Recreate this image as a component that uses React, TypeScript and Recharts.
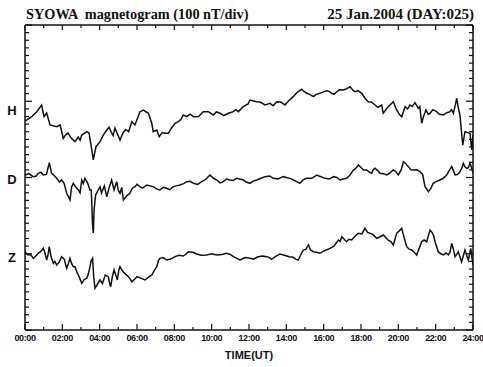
import React from 'react';
import { LineChart, Line, XAxis, YAxis } from 'recharts';

// Time (hours UT) and trace levels (in axis divisions, 0 = bottom frame, 40 = top frame)
const hTime = [0, 0.36, 0.63, 0.89, 1.02, 1.16, 1.34, 1.7, 1.88, 2.05, 2.3, 2.68, 3.04, 3.31, 3.43, 3.52, 3.66, 3.8, 4.02, 4.38, 4.64, 4.82, 5.09, 5.25, 5.72, 5.89, 6.16, 6.34, 6.61, 6.79, 6.87, 7.06, 7.19, 7.5, 7.68, 8.04, 8.21, 8.48, 8.66, 9.02, 9.55, 9.82, 10.09, 10.45, 10.89, 11.16, 11.43, 11.69, 11.95, 12.05, 12.41, 12.86, 13.13, 13.48, 13.93, 14.37, 14.82, 15.09, 15.45, 15.8, 16.16, 16.43, 16.7, 17.05, 17.41, 17.68, 18.04, 18.21, 18.39, 18.75, 19.11, 19.19, 19.46, 19.73, 19.91, 20.18, 20.36, 20.62, 20.89, 21.07, 21.25, 21.48, 21.7, 22.05, 22.41, 22.77, 22.95, 23.13, 23.3, 23.45, 23.57, 23.84, 23.93, 24];
const hVal = [27.4, 27.97, 28.63, 29.51, 27.97, 28.46, 26.89, 26.66, 26.89, 25.14, 25.84, 24.7, 25.57, 26.01, 25.84, 24.52, 22.3, 24.04, 24.7, 26.23, 25.84, 26.49, 24.92, 25.84, 27.32, 26.89, 28.63, 28.85, 28.42, 27.11, 26.01, 26.23, 25.35, 25.8, 25.8, 27.11, 27.32, 28.2, 27.97, 27.97, 28.63, 28.63, 28.2, 28.42, 28.42, 28.63, 28.63, 29.29, 29.64, 30.16, 29.94, 29.51, 29.73, 29.94, 29.51, 30.6, 31.57, 31.04, 30.6, 31.04, 31.38, 31.04, 31.25, 31.48, 31.91, 31.25, 31.04, 30.39, 29.94, 29.51, 29.51, 28.42, 29.29, 29.94, 28.85, 27.97, 29.29, 29.51, 29.81, 29.08, 27.11, 28.85, 28.42, 28.63, 28.2, 28.63, 28.42, 30.39, 28.2, 24.26, 26.01, 25.8, 23.61, 25.57];
const hTimeFine = [2.15, 2.5, 2.85, 2.95, 4.2, 4.5, 4.72, 5.4, 5.55, 7.35, 7.85, 8.35, 8.85, 9.3, 10.25, 10.65, 11.3, 12.6, 13.3, 13.7, 14.1, 14.6, 14.95, 15.25, 15.6, 15.95, 16.3, 16.55, 16.85, 17.2, 17.55, 17.85, 18.55, 18.9, 20.05, 20.5, 20.75, 21.15, 21.35, 21.6, 21.85, 22.2, 22.6, 22.85, 23.05, 23.2];
const hValFine = [25.5, 25.1, 25.3, 24.9, 25.6, 26.6, 25.5, 26.3, 26.0, 25.9, 26.5, 27.6, 28.3, 28.0, 28.6, 28.1, 28.9, 29.9, 29.4, 29.9, 30.0, 31.2, 31.3, 30.9, 30.9, 31.2, 31.3, 30.9, 31.5, 31.6, 31.5, 31.4, 29.9, 29.2, 28.3, 29.0, 29.3, 29.3, 28.0, 28.3, 28.9, 28.3, 28.5, 28.9, 29.5, 29.3];

const dTime = [0, 0.44, 0.71, 0.98, 1.3, 1.43, 1.7, 1.96, 2.23, 2.41, 2.59, 2.86, 3.04, 3.21, 3.48, 3.55, 3.62, 3.66, 3.7, 3.78, 4.02, 4.38, 4.64, 4.77, 4.91, 5.09, 5.27, 5.62, 5.89, 6.16, 6.52, 6.87, 7.23, 7.59, 7.94, 8.3, 8.66, 9.02, 9.47, 9.91, 10.27, 10.62, 10.98, 11.34, 11.69, 12.05, 12.41, 12.86, 13.3, 13.84, 14.2, 14.73, 15.09, 15.36, 15.63, 16.07, 16.52, 16.88, 17.23, 17.59, 17.86, 18.13, 18.3, 18.57, 18.75, 19.02, 19.38, 19.73, 20.0, 20.27, 20.54, 20.8, 21.16, 21.43, 21.61, 21.87, 22.23, 22.59, 22.86, 23.04, 23.3, 23.48, 23.66, 23.84, 24];
const dVal = [20.33, 20.11, 20.55, 20.33, 21.94, 20.55, 19.89, 19.67, 17.93, 17.05, 19.24, 18.36, 19.67, 19.89, 18.36, 18.36, 13.77, 12.72, 15.74, 17.7, 18.79, 17.48, 19.67, 18.36, 19.45, 17.93, 17.05, 17.93, 18.79, 18.79, 19.02, 18.79, 18.36, 18.58, 18.79, 19.02, 19.45, 19.24, 19.45, 20.33, 19.67, 19.45, 19.67, 19.89, 19.67, 19.24, 19.67, 20.11, 19.89, 20.11, 19.89, 19.24, 19.89, 19.89, 20.33, 19.89, 20.11, 19.67, 19.89, 20.98, 21.64, 20.98, 20.98, 20.55, 21.21, 20.55, 20.33, 20.98, 20.33, 22.07, 21.42, 20.98, 20.76, 18.79, 18.14, 19.24, 19.67, 20.33, 21.42, 20.33, 20.76, 21.86, 21.21, 21.86, 20.55];
const dTimeFine = [0.2, 0.6, 0.85, 1.15, 1.55, 1.85, 2.1, 2.33, 2.5, 2.7, 2.95, 3.12, 3.35, 4.1, 4.25, 4.5, 5.0, 5.18, 5.45, 5.75, 6.0, 6.3, 6.7, 7.05, 7.4, 7.75, 8.1, 8.5, 8.85, 9.25, 9.7, 10.1, 10.45, 10.8, 11.15, 11.5, 11.85, 12.2, 12.65, 13.1, 13.55, 14.0, 14.45, 14.9, 15.5, 15.85, 16.3, 16.7, 17.05, 17.4, 17.72, 18.0, 18.45, 18.65, 18.9, 19.2, 19.55, 19.85, 20.15, 20.4, 20.68, 20.98, 21.3, 21.52, 21.75, 22.05, 22.4, 22.72, 22.95, 23.17, 23.4, 23.57, 23.75, 23.92];
const dValFine = [20.5, 20.2, 20.7, 20.4, 20.3, 19.4, 19.2, 17.5, 18.8, 18.8, 18.0, 19.2, 19.3, 18.0, 18.9, 18.6, 18.3, 18.7, 17.6, 18.6, 19.1, 18.6, 18.9, 18.5, 18.7, 18.4, 18.9, 19.2, 19.5, 19.1, 19.8, 19.9, 19.3, 19.8, 19.6, 19.8, 19.4, 19.5, 19.9, 20.2, 19.8, 20.0, 19.6, 19.7, 20.1, 20.1, 19.8, 20.0, 19.8, 20.3, 21.2, 21.3, 20.7, 21.0, 20.9, 20.5, 20.6, 20.8, 21.0, 21.8, 21.0, 21.0, 20.4, 18.5, 18.6, 19.5, 19.9, 20.9, 20.9, 20.4, 21.2, 21.4, 21.3, 21.3];

const zTime = [0, 0.16, 0.45, 0.71, 0.98, 1.16, 1.3, 1.52, 1.7, 1.96, 2.23, 2.41, 2.59, 2.77, 3.04, 3.31, 3.48, 3.62, 3.75, 4.02, 4.46, 4.59, 4.77, 4.95, 5.09, 5.27, 5.54, 5.72, 6.0, 6.43, 6.79, 7.06, 7.23, 7.59, 8.04, 8.48, 8.75, 9.2, 9.73, 10.27, 10.8, 11.16, 11.52, 12.05, 12.45, 12.95, 13.21, 13.66, 14.37, 14.64, 14.91, 15.18, 15.45, 15.8, 16.34, 16.79, 16.97, 17.23, 17.5, 17.86, 18.21, 18.48, 18.84, 19.2, 19.46, 19.73, 19.91, 20.18, 20.45, 20.71, 20.98, 21.25, 21.52, 21.7, 21.88, 22.14, 22.41, 22.68, 22.86, 23.04, 23.21, 23.39, 23.57, 23.75, 23.88, 24];
const zVal = [10.27, 9.84, 9.4, 10.06, 10.71, 9.18, 10.93, 8.74, 8.52, 9.62, 8.09, 9.4, 8.3, 7.65, 6.12, 6.78, 8.3, 9.4, 5.47, 6.56, 6.99, 5.68, 7.87, 6.56, 8.3, 7.61, 6.99, 6.33, 6.99, 6.56, 7.21, 8.3, 9.4, 9.18, 9.62, 9.7, 10.27, 9.97, 9.84, 9.84, 10.06, 9.62, 9.18, 9.4, 9.57, 9.62, 9.27, 9.97, 9.53, 9.18, 10.49, 11.15, 10.27, 10.06, 10.71, 11.8, 12.24, 11.58, 11.8, 12.68, 13.34, 12.68, 12.03, 12.46, 11.8, 11.15, 12.68, 13.34, 10.93, 10.49, 9.84, 11.58, 11.58, 13.11, 12.46, 10.27, 9.84, 9.84, 11.37, 9.62, 10.27, 8.96, 10.49, 9.18, 10.71, 8.52];
const zTimeFine = [0.08, 0.3, 0.58, 0.85, 1.07, 1.23, 1.4, 1.6, 1.83, 2.1, 2.32, 2.5, 2.68, 2.9, 3.17, 3.4, 3.55, 3.68, 3.88, 4.15, 4.3, 4.52, 4.68, 4.86, 5.02, 5.18, 5.4, 5.63, 5.85, 6.2, 6.6, 6.92, 7.15, 7.4, 7.8, 8.25, 8.6, 9.0, 9.45, 10.0, 10.55, 11.0, 11.35, 11.8, 12.25, 12.7, 13.1, 13.45, 13.9, 14.15, 14.5, 14.78, 15.05, 15.3, 15.62, 16.05, 16.55, 16.88, 17.1, 17.35, 17.68, 18.05, 18.35, 18.65, 19.0, 19.33, 19.6, 19.82, 20.05, 20.3, 20.58, 20.85, 21.1, 21.38, 21.6, 21.8, 22.0, 22.28, 22.55, 22.77, 22.95, 23.12, 23.3, 23.48, 23.66, 23.82, 23.94];
const zValFine = [10.0, 9.9, 9.7, 10.3, 10.1, 9.8, 9.6, 9.0, 8.9, 9.3, 8.7, 8.7, 8.3, 7.0, 6.6, 7.4, 9.1, 7.0, 6.0, 6.1, 7.2, 6.3, 7.0, 7.2, 7.8, 7.9, 7.3, 6.7, 6.6, 6.8, 6.9, 7.8, 9.1, 9.5, 9.3, 9.8, 9.9, 10.2, 9.8, 10.0, 9.9, 9.9, 9.4, 9.5, 9.3, 9.7, 9.5, 9.7, 9.8, 9.6, 9.3, 9.9, 10.6, 10.5, 10.2, 10.4, 11.0, 11.6, 11.9, 11.9, 12.3, 12.6, 12.8, 12.5, 12.2, 12.1, 11.6, 11.9, 13.0, 12.2, 10.6, 10.2, 10.6, 11.8, 12.3, 12.8, 11.3, 10.0, 10.1, 10.2, 10.6, 9.9, 9.6, 9.7, 9.8, 10.0, 9.6];

const hourTicks = Array.from({ length: 25 }, (_, i) => i);
const divTicks = Array.from({ length: 41 }, (_, i) => i);
const hourLabels = ['00:00', '02:00', '04:00', '06:00', '08:00', '10:00', '12:00', '14:00', '16:00', '18:00', '20:00', '22:00', '24:00'];
const componentLabels = [
  { name: 'H', level: 28.9 },
  { name: 'D', level: 19.8 },
  { name: 'Z', level: 9.6 },
];

const toRows = (t: number[], v: number[], tf: number[], vf: number[]) =>
  [...t.map((x, i) => ({ t: x, v: v[i] })), ...tf.map((x, i) => ({ t: x, v: vf[i] }))].sort((a, b) => a.t - b.t);
const hData = toRows(hTime, hVal, hTimeFine, hValFine);
const dData = toRows(dTime, dVal, dTimeFine, dValFine);
const zData = toRows(zTime, zVal, zTimeFine, zValFine);

const INK = '#111';
const SANS = '"Liberation Sans", Arial, sans-serif';
const SERIF = '"Liberation Serif", "Times New Roman", serif';

const BottomTick = (props: any) => {
  const { x, y, payload } = props;
  const h = payload.value as number;
  const even = h % 2 === 0;
  return (
    <g>
      <line x1={x} y1={y} x2={x} y2={y - (even ? 6 : 3)} stroke={INK} strokeWidth={1.2} />
      {even && (
        <text x={x} y={y + 11} textAnchor="middle" fontFamily={SANS} fontWeight="bold" fontSize={9} fill={INK} letterSpacing={-0.4}>
          {hourLabels[h / 2]}
        </text>
      )}
    </g>
  );
};

const TopTick = (props: any) => {
  const { x, y, payload } = props;
  const even = (payload.value as number) % 2 === 0;
  return <line x1={x} y1={y} x2={x} y2={y + (even ? 5 : 3)} stroke={INK} strokeWidth={1.2} />;
};

const LeftTick = (props: any) => {
  const { x, y, payload } = props;
  const major = (payload.value as number) % 10 === 0;
  return <line x1={x} y1={y} x2={x + (major ? 7 : 4)} y2={y} stroke={INK} strokeWidth={1.2} />;
};

const RightTick = (props: any) => {
  const { x, y, payload } = props;
  const major = (payload.value as number) % 10 === 0;
  return <line x1={x} y1={y} x2={x - (major ? 7 : 4)} y2={y} stroke={INK} strokeWidth={1.2} />;
};

const CompLabel = (props: any) => {
  const { x, y, payload } = props;
  const c = componentLabels.find((l) => Math.abs(l.level - payload.value) < 1e-6);
  if (!c) return null;
  return (
    <text x={x - 12} y={y + 5} textAnchor="middle" fontFamily={SANS} fontWeight="bold" fontSize={13} fill={INK}>
      {c.name}
    </text>
  );
};

export default function App() {
  return (
    <div style={{ position: 'fixed', left: 0, top: 0, width: 483, height: 367, background: '#fff' }}>
      <LineChart width={483} height={367} margin={{ top: 24, right: 9, bottom: 36, left: 23 }}>
        <XAxis xAxisId="b" dataKey="t" type="number" domain={[0, 24]} ticks={hourTicks} interval={0} orientation="bottom" height={1} tickSize={0} tickMargin={0} tickLine={false} axisLine={{ stroke: INK, strokeWidth: 1.5 }} tick={<BottomTick />} allowDataOverflow />
        <XAxis xAxisId="t" dataKey="t" type="number" domain={[0, 24]} ticks={hourTicks} interval={0} orientation="top" height={1} tickSize={0} tickMargin={0} tickLine={false} axisLine={{ stroke: INK, strokeWidth: 1.5 }} tick={<TopTick />} allowDataOverflow />
        <YAxis yAxisId="l" type="number" domain={[0, 40]} ticks={divTicks} interval={0} orientation="left" width={1} tickSize={0} tickMargin={0} tickLine={false} axisLine={{ stroke: INK, strokeWidth: 1.5 }} tick={<LeftTick />} allowDataOverflow />
        <YAxis yAxisId="lab" type="number" domain={[0, 40]} ticks={componentLabels.map((c) => c.level)} interval={0} orientation="left" width={1} tickSize={0} tickMargin={0} tickLine={false} axisLine={false} tick={<CompLabel />} allowDataOverflow />
        <YAxis yAxisId="r" type="number" domain={[0, 40]} ticks={divTicks} interval={0} orientation="right" width={1} tickSize={0} tickMargin={0} tickLine={false} axisLine={{ stroke: INK, strokeWidth: 1.5 }} tick={<RightTick />} allowDataOverflow />
        <Line xAxisId="t" yAxisId="r" data={hData} dataKey="v" type="linear" stroke={INK} strokeWidth={1.5} dot={false} isAnimationActive={false} />
        <Line xAxisId="b" yAxisId="l" data={dData} dataKey="v" type="linear" stroke={INK} strokeWidth={1.5} dot={false} isAnimationActive={false} />
        <Line xAxisId="b" yAxisId="lab" data={zData} dataKey="v" type="linear" stroke={INK} strokeWidth={1.5} dot={false} isAnimationActive={false} />
        <text x={26} y={19} fontFamily={SERIF} fontWeight="bold" fontSize={14.3} fill={INK} style={{ whiteSpace: 'pre' }}>
          SYOWA  magnetogram (100 nT/div)
        </text>
        <text x={474} y={19} textAnchor="end" fontFamily={SERIF} fontWeight="bold" fontSize={15} fill={INK}>
          25 Jan.2004 (DAY:025)
        </text>
        <text x={249} y={359} textAnchor="middle" fontFamily={SANS} fontWeight="bold" fontSize={11} fill={INK}>
          TIME(UT)
        </text>
      </LineChart>
    </div>
  );
}
